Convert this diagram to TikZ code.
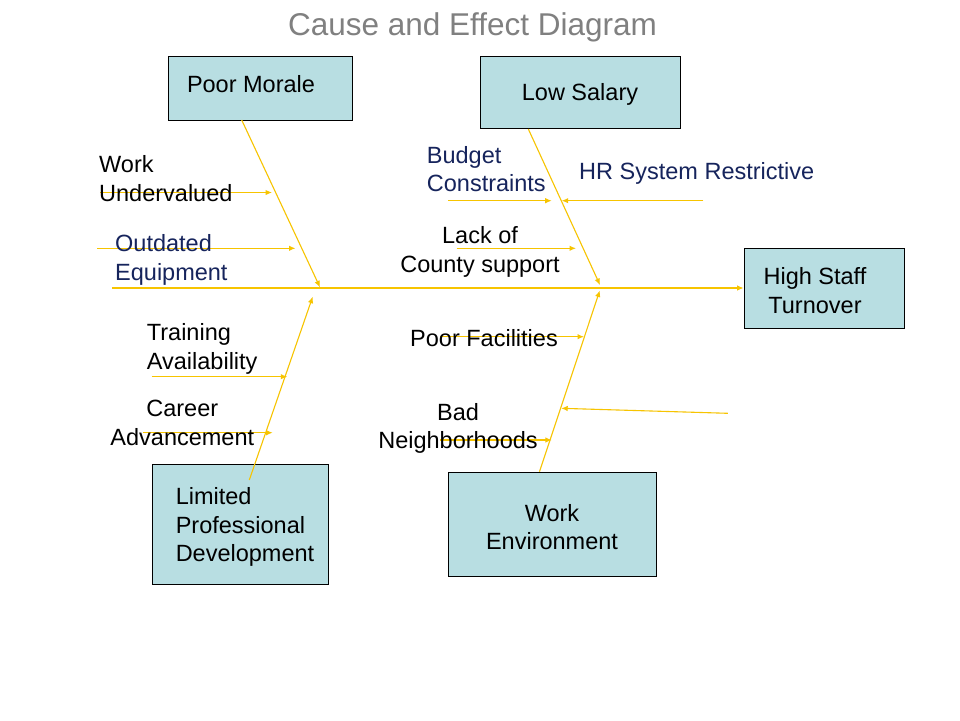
\documentclass[tikz,border=0pt]{standalone}
\usepackage{fontspec}
\setmainfont{Liberation Sans}
\usetikzlibrary{arrows.meta}
\definecolor{boxfill}{RGB}{184,222,226}
\definecolor{bonecol}{RGB}{247,196,0}
\definecolor{navy}{RGB}{22,36,92}
\definecolor{titlegray}{RGB}{128,128,128}
\newcommand\lblfont{\fontsize{23.5pt}{28.3pt}\selectfont}
\newcommand\ttlfont{\fontsize{31.5pt}{36pt}\selectfont}
\tikzset{
  box/.style={draw=black, line width=0.9pt, fill=boxfill, inner sep=0pt, font=\lblfont, align=center},
  lbl/.style={inner sep=0pt, font=\lblfont},
  bone/.style={draw=bonecol, line width=1.1pt, -{Latex[length=6.5pt,width=5.5pt]}},
}
\begin{document}
\begin{tikzpicture}[x=1pt,y=-1pt]
\fill[white] (0,0) rectangle (960,720);
\useasboundingbox (0,0) rectangle (960,720);

% title
\node[inner sep=0pt, font=\ttlfont, text=titlegray, anchor=base] (title) at (472.5,35.5) {Cause and Effect Diagram};

% boxes
\node[box, minimum width=184pt, minimum height=64pt, text depth=9pt] (pm) at (260,88) {Poor Morale\hspace*{18pt}};
\node[box, minimum width=200pt, minimum height=72pt] (ls) at (580,92) {\rule{0pt}{21pt}Low Salary};
\node[box, minimum width=160pt, minimum height=80pt] (hst) at (824,288) {\rule{0pt}{22pt}High Staff\hspace*{18pt}\\Turnover\hspace*{18pt}};
\node[box, minimum width=176pt, minimum height=120pt, align=left] (lpd) at (240,524) {\rule{0pt}{23pt}\hspace*{10pt}Limited\\\hspace*{10pt}Professional\\\hspace*{10pt}Development};
\node[box, minimum width=208pt, minimum height=104pt] (we) at (552,524) {\rule{0pt}{23pt}Work\\Environment};

% spine and bone coordinates
\coordinate (tail) at (112,288);
\coordinate (pmB) at (241.7,120);
\coordinate (pmE) at (320,287.3);
\coordinate (lsB) at (528.3,129);
\coordinate (lsE) at (600,285);
\coordinate (lpdB) at (249.3,480);
\coordinate (lpdE) at (312.7,296.7);
\coordinate (weB) at (539.5,471.7);
\coordinate (weE) at (599.8,290.5);

\draw[bone] (tail) -- (hst.west);
\draw[bone] (pmB) -- (pmE);
\draw[bone] (lsB) -- (lsE);
\draw[bone] (lpdB) -- (lpdE);
\draw[bone] (weB) -- (weE);

% rib coordinates
\coordinate (wuS) at (100,192.5);  \coordinate (wuE) at (272,192.5);
\coordinate (oeS) at (97,248.3);   \coordinate (oeE) at (295.5,248.3);
\coordinate (taS) at (151.7,376.7); \coordinate (taE) at (287.3,376.7);
\coordinate (caS) at (143.3,432.7); \coordinate (caE) at (272.7,432.7);
\coordinate (bcS) at (448.3,200.7); \coordinate (bcE) at (551.7,200.7);
\coordinate (hrS) at (703.3,200.7); \coordinate (hrE) at (561.7,200.7);
\coordinate (lcS) at (456.7,248.3); \coordinate (lcE) at (576,248.3);
\coordinate (pfS) at (440,336.7);   \coordinate (pfE) at (584,336.7);
\coordinate (unS) at (727.9,413.3); \coordinate (unE) at (561.2,408.3);
\coordinate (bnS) at (440,440);     \coordinate (bnE) at (551.8,440);

\draw[bone] (wuS) -- (wuE);
\draw[bone] (oeS) -- (oeE);
\draw[bone] (taS) -- (taE);
\draw[bone] (caS) -- (caE);
\draw[bone] (bcS) -- (bcE);
\draw[bone] (hrS) -- (hrE);
\draw[bone] (lcS) -- (lcE);
\draw[bone] (pfS) -- (pfE);
\draw[bone] (unS) -- (unE);
\draw[bone] (bnS) -- (bnE);

% labels (base anchor = baseline of the last line)
\node[lbl, align=left, anchor=base west] (wu) at (99,201) {Work\\Undervalued};
\node[lbl, align=left, anchor=base west, text=navy] (oe) at (115,280) {Outdated\\Equipment};
\node[lbl, align=left, anchor=base west] (ta) at (146.7,369) {Training\\Availability};
\node[lbl, align=center, anchor=base] (ca) at (182.3,445) {Career\\Advancement};
\node[lbl, align=left, anchor=base west, text=navy] (bc) at (426.7,191.7) {Budget\\Constraints};
\node[lbl, anchor=base west, text=navy] (hr) at (579,179) {HR System Restrictive};
\node[lbl, align=center, anchor=base] (lc) at (480,272) {Lack of\\County support};
\node[lbl, anchor=base] (pf) at (484,346.7) {Poor Facilities};
\node[lbl, align=center, anchor=base] (bn) at (458,448.5) {Bad\\Neighborhoods};
\end{tikzpicture}
\end{document}
